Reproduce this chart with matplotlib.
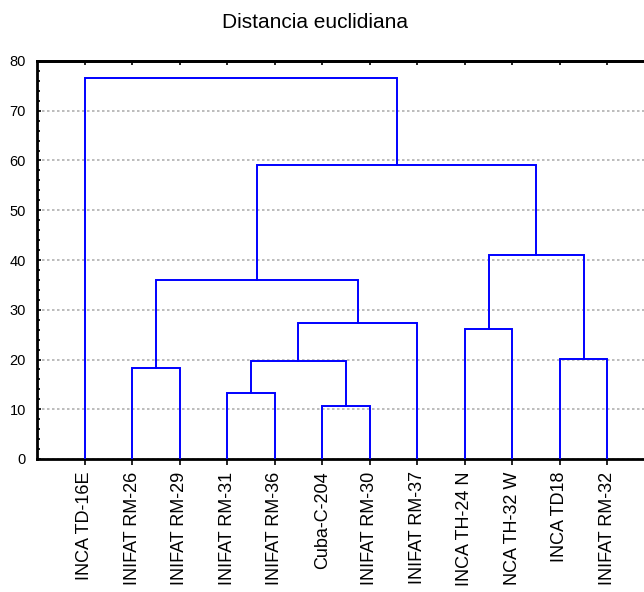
import matplotlib
matplotlib.use("Agg")
import matplotlib.pyplot as plt
from matplotlib.ticker import MultipleLocator

leaves = ["INCA TD-16E", "INIFAT RM-26", "INIFAT RM-29", "INIFAT RM-31",
          "INIFAT RM-36", "Cuba-C-204", "INIFAT RM-30", "INIFAT RM-37",
          "INCA TH-24 N", "NCA TH-32 W", "INCA TD18", "INIFAT RM-32"]

# merges: (left node, right node, height); nodes 0..11 are leaves, 12+ are clusters
merge_left = [1, 3, 5, 13, 15, 12, 8, 10, 18, 17, 0]
merge_right = [2, 4, 6, 14, 7, 16, 9, 11, 19, 20, 21]
merge_height = [18.3, 13.3, 10.7, 19.7, 27.3, 36.0, 26.1, 20.1, 41.0, 59.1, 76.6]

y_ticks = [0, 10, 20, 30, 40, 50, 60, 70, 80]
title = "Distancia euclidiana"

fam = ["Liberation Sans", "DejaVu Sans"]

fig = plt.figure(figsize=(6.44, 5.92), dpi=100)
ax = fig.add_axes([37 / 644, 133 / 592, 618 / 644, 398 / 592])

pos = {i: float(i) for i in range(len(leaves))}
hgt = {i: 0.0 for i in range(len(leaves))}
for k, (a, b, h) in enumerate(zip(merge_left, merge_right, merge_height)):
    node = len(leaves) + k
    xa, xb = pos[a], pos[b]
    ax.plot([xa, xa, xb, xb], [hgt[a], h, h, hgt[b]], color="#0000FF", lw=1.4,
            solid_joinstyle="miter", zorder=3)
    pos[node] = (xa + xb) / 2
    hgt[node] = h

ax.set_xlim(-1, 12)
ax.set_ylim(0, 80)
ax.set_yticks(y_ticks)
ax.yaxis.set_minor_locator(MultipleLocator(2))
ax.set_xticks(range(len(leaves)))
ax.set_xticklabels(leaves, rotation=90, va="top", ha="center",
                   family=fam, fontsize=13)
for lab in ax.get_yticklabels():
    lab.set_family(fam)
    lab.set_fontsize(10.5)

ax.tick_params(axis="y", which="major", direction="in", length=3, width=1.2,
               pad=8, right=False)
ax.tick_params(axis="y", which="minor", direction="in", length=2, width=1.2,
               right=False)
ax.tick_params(axis="x", which="major", direction="out", length=4, width=1.2,
               pad=5, top=False)

top = ax.secondary_xaxis("top")
top.set_xticks(range(len(leaves)))
top.set_xticklabels([])
top.tick_params(direction="in", length=3, width=1.2)
top.spines["top"].set_linewidth(2)

ax.yaxis.grid(True, which="major", color="#b0b0b0", linestyle=(0, (1.5, 1.5)), lw=1.2)
ax.set_axisbelow(True)

for s in ["left", "bottom", "top"]:
    ax.spines[s].set_linewidth(2)
ax.spines["right"].set_visible(False)

fig.text(315.5 / 644, 1 - 22 / 592, title, ha="center", va="center",
         family=fam, fontsize=15)

fig.savefig("out.png", dpi=100)
